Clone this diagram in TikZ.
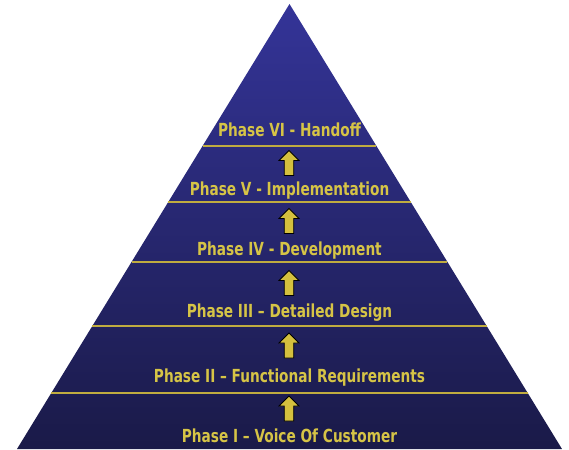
\documentclass[tikz,border=0pt]{standalone}
\usepackage{fontspec}
\newfontfamily\phasefont[FakeStretch=0.76]{DejaVu Sans}
\usetikzlibrary{calc}
\definecolor{pyrtop}{RGB}{52,52,152}
\definecolor{pyrbottom}{RGB}{26,26,72}
\definecolor{phaseyellow}{RGB}{214,196,70}
\definecolor{rulegold}{RGB}{192,172,64}
\definecolor{arrowfill}{RGB}{212,192,62}

\begin{document}
\begin{tikzpicture}[x=1pt, y=-1pt, thick, >=stealth,
    phase/.style={text=phaseyellow, font=\phasefont\bfseries\fontsize{18}{20}\selectfont, inner sep=0pt, anchor=base},
    uparrow/.pic={\draw[fill=arrowfill, line width=0.8pt, line join=miter]
        (-4.7,12.5) -- (-4.7,-2.5) -- (-10,-2.5) -- (0,-12.5) -- (10,-2.5) -- (4.7,-2.5) -- (4.7,12.5) -- cycle;}]
    \useasboundingbox (0,0) rectangle (569,449);
    % Pyramid
    \coordinate (apex) at (289.5,4);
    \coordinate (left) at (17,449);
    \coordinate (right) at (562,449);
    \shade[top color=pyrtop, bottom color=pyrbottom] (apex) -- (left) -- (right) -- cycle;
    \foreach \y in {146,202,262,326,393}
        \draw[rulegold, line width=1.2pt] ($(apex)!{(\y-4)/445}!(left)$) -- ($(apex)!{(\y-4)/445}!(right)$);
    % Nodes
    \node[phase] (phase6) at (289.5,137) {Phase VI - Handoff};
    \node[phase] (phase5) at (289.5,195) {Phase V - Implementation};
    \node[phase] (phase4) at (289.5,255) {Phase IV - Development};
    \node[phase] (phase3) at (289.5,317) {Phase III – Detailed Design};
    \node[phase] (phase2) at (289.5,382) {Phase II – Functional Requirements};
    \node[phase] (phase1) at (289.5,442) {Phase I – Voice Of Customer};
    % Arrows
    \pic (up5) at (289,163) {uparrow};
    \pic (up4) at (289,221) {uparrow};
    \pic (up3) at (289,283) {uparrow};
    \pic (up2) at (289,345.5) {uparrow};
    \pic (up1) at (289,408.5) {uparrow};
\end{tikzpicture}
\end{document}
